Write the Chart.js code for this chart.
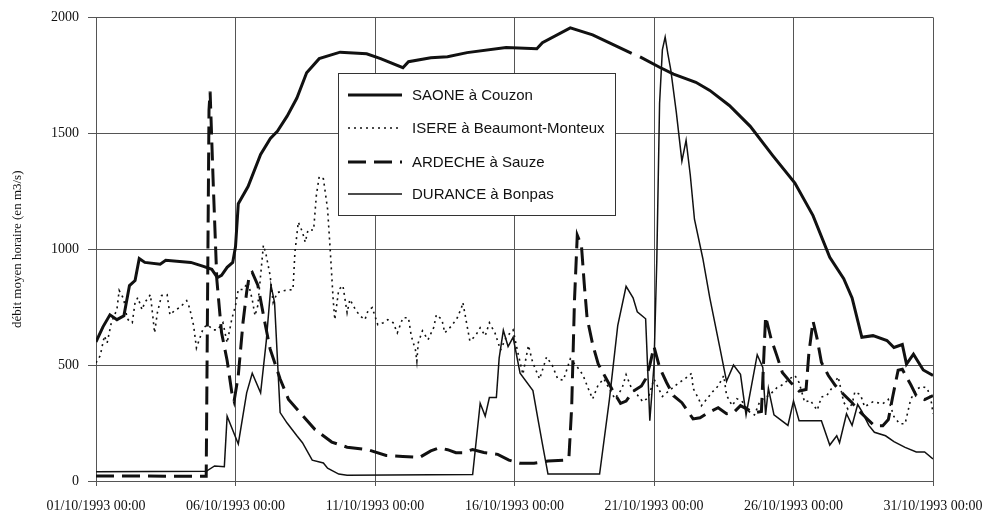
<!DOCTYPE html>
<html>
<head>
<meta charset="utf-8">
<script src="https://cdn.jsdelivr.net/npm/chart.js@4"></script>
<style>
    body { margin: 0; background: #fff; }
    #wrap { width: 988px; height: 520px; }
</style>
</head>
<body>
<div id="wrap"><canvas id="debitChart" width="988" height="520"></canvas></div>
<script>
// x = days since 01/10/1993 00:00, y = débit (m3/s)
const tickLabels = ["01/10/1993 00:00", "06/10/1993 00:00", "11/10/1993 00:00", "16/10/1993 00:00",
    "21/10/1993 00:00", "26/10/1993 00:00", "31/10/1993 00:00"];

const seriesNames = ["SAONE à Couzon", "ISERE à Beaumont-Monteux", "ARDECHE à Sauze", "DURANCE à Bonpas"];

const saone = [[0,600],[0.25,665],[0.5,717],[0.75,696],[1,713],[1.2,843],[1.4,865],[1.55,960],[1.75,943],
    [2.3,935],[2.5,952],[3.4,943],[3.85,926],[4.15,913],[4.35,878],[4.5,887],[4.7,922],[4.9,943],[5,1010],
    [5.1,1196],[5.45,1270],[5.9,1409],[6.25,1478],[6.5,1509],[6.85,1574],[7.2,1652],[7.55,1761],[8,1822],
    [8.75,1850],[9.7,1843],[10.2,1822],[11,1783],[11.2,1809],[12,1826],[12.6,1830],[13.3,1848],[14.7,1870],
    [15.8,1865],[16,1891],[17,1955],[17.8,1925],[18.5,1885],[19.2,1845],[19.35,null],[19.5,1830],[20.2,1785],
    [20.7,1755],[21.5,1720],[22,1685],[22.7,1620],[23.45,1530],[24.25,1405],[25.05,1285],[25.7,1145],
    [26.3,965],[26.8,873],[27.1,790],[27.45,620],[27.85,627],[28.35,606],[28.6,576],[28.9,589],[29.05,504],
    [29.3,547],[29.65,479],[30,455]];

const isere = [[0,510],[0.15,540],[0.3,626],[0.4,596],[0.55,683],[0.75,740],[0.83,822],[1,783],[1.05,735],
    [1.15,696],[1.3,683],[1.4,770],[1.5,791],[1.65,739],[1.75,770],[1.95,804],[2.05,696],[2.1,639],[2.2,726],
    [2.35,800],[2.55,804],[2.65,717],[2.85,739],[3,748],[3.25,778],[3.35,748],[3.5,670],[3.6,574],[3.7,609],
    [3.85,661],[4,674],[4.2,652],[4.35,652],[4.55,683],[4.7,596],[4.87,700],[5,757],[5.1,826],[5.27,826],
    [5.45,857],[5.6,783],[5.7,713],[5.8,757],[6,1017],[6.1,974],[6.24,887],[6.35,770],[6.5,813],[6.77,822],
    [7.06,826],[7.13,987],[7.25,1117],[7.4,1074],[7.5,1030],[7.6,1083],[7.8,1083],[7.9,1235],[8,1313],
    [8.15,1304],[8.3,1174],[8.4,987],[8.5,783],[8.56,696],[8.7,826],[8.85,843],[9,726],[9.1,783],[9.3,739],
    [9.46,713],[9.64,696],[9.75,735],[9.9,748],[10.1,674],[10.3,683],[10.46,696],[10.65,683],[10.8,639],
    [11,704],[11.2,704],[11.3,626],[11.45,565],[11.5,517],[11.55,596],[11.7,648],[11.9,609],[12.1,661],
    [12.2,717],[12.4,696],[12.5,639],[12.75,670],[12.95,704],[13.1,748],[13.15,770],[13.3,670],[13.4,604],
    [13.6,626],[13.77,661],[13.95,626],[14.1,683],[14.3,639],[14.5,565],[14.7,620],[14.95,652],[15.1,565],
    [15.3,460],[15.5,585],[15.65,512],[15.9,440],[16.15,535],[16.35,500],[16.55,440],[16.75,435],[17,527],
    [17.25,492],[17.45,458],[17.65,397],[17.8,354],[18,415],[18.2,441],[18.4,397],[18.6,355],[18.85,398],
    [19,459],[19.2,398],[19.4,372],[19.6,342],[19.8,360],[20,440],[20.3,365],[20.6,395],[20.85,420],
    [21.1,440],[21.35,465],[21.4,400],[21.6,355],[21.7,325],[21.9,355],[22.1,385],[22.3,410],[22.5,455],
    [22.6,370],[22.8,325],[22.97,355],[23.15,345],[23.4,300],[23.6,285],[23.8,345],[24.15,372],[24.4,402],
    [24.6,415],[24.85,440],[25.05,455],[25.2,425],[25.4,340],[25.6,348],[25.85,305],[26,362],[26.2,370],
    [26.4,405],[26.6,450],[26.8,340],[26.95,310],[27.1,332],[27.2,385],[27.4,372],[27.55,320],[27.85,342],
    [28.2,333],[28.4,352],[28.6,278],[28.8,247],[29,247],[29.2,352],[29.4,395],[29.6,408],[29.8,400],
    [29.95,335],[30,290]];

const ardeche = [[0,22],[3.95,20],[4.05,1600],[4.09,1680],[4.2,1290],[4.33,870],[4.5,640],[4.7,520],
    [4.87,380],[4.95,345],[5.1,455],[5.27,685],[5.4,815],[5.5,890],[5.6,900],[5.8,845],[6.05,685],[6.24,570],
    [6.4,512],[6.6,440],[6.9,352],[7.4,283],[7.85,222],[8.45,168],[9,146],[9.75,135],[10.4,110],[11,106],
    [11.6,102],[12,130],[12.3,143],[12.6,135],[12.9,122],[13.15,122],[13.5,136],[13.9,123],[14.4,115],
    [14.8,90],[15.2,77],[15.7,77],[16.2,86],[16.8,90],[16.95,100],[17.05,320],[17.15,780],[17.25,1060],
    [17.4,1015],[17.5,850],[17.6,705],[17.8,590],[18,505],[18.25,450],[18.5,395],[18.8,335],[19,345],
    [19.25,387],[19.55,410],[19.7,440],[19.85,500],[20,580],[20.2,490],[20.45,425],[20.7,368],[21,338],
    [21.4,268],[21.65,273],[21.95,295],[22.3,316],[22.6,290],[22.85,295],[23.1,325],[23.3,312],[23.6,295],
    [23.85,300],[24,710],[24.2,612],[24.4,542],[24.6,468],[24.9,425],[25.2,388],[25.45,395],[25.55,550],
    [25.7,690],[25.85,612],[26,512],[26.25,455],[26.5,412],[26.8,373],[27.1,338],[27.3,308],[27.6,273],
    [27.9,238],[28.2,238],[28.4,265],[28.55,360],[28.75,478],[28.9,482],[29.2,416],[29.4,368],[29.7,351],
    [30,368]];

const durance = [[0,40],[3.95,42],[4.25,65],[4.6,62],[4.7,280],[5.1,160],[5.4,380],[5.6,465],[5.9,380],
    [6.1,600],[6.27,845],[6.4,770],[6.6,295],[6.85,250],[7.2,195],[7.4,165],[7.75,90],[8.15,78],[8.3,55],
    [8.7,30],[9,25],[13.5,28],[13.77,335],[13.95,280],[14.1,360],[14.35,360],[14.45,530],[14.6,650],
    [14.77,580],[14.95,620],[15.2,465],[15.66,390],[15.85,260],[16,160],[16.2,30],[18.05,30],[18.4,350],
    [18.7,670],[19,840],[19.25,790],[19.4,730],[19.7,700],[19.85,260],[20,500],[20.1,950],[20.2,1630],
    [20.3,1860],[20.4,1915],[20.5,1840],[20.6,1775],[20.8,1590],[21,1380],[21.15,1470],[21.3,1320],
    [21.45,1130],[21.75,960],[22,790],[22.36,575],[22.6,430],[22.85,500],[23.1,460],[23.3,285],[23.7,545],
    [23.9,490],[24,285],[24.1,400],[24.3,285],[24.8,240],[25,345],[25.2,260],[25.7,260],[26,260],[26.3,155],
    [26.55,195],[26.65,165],[26.9,290],[27.1,240],[27.3,330],[27.45,300],[27.7,240],[27.9,210],[28.3,195],
    [28.6,170],[29,145],[29.4,125],[29.7,125],[30,95]];

const toPoints = arr => arr.map(p => ({ x: p[0], y: p[1] }));

const ink = "#111";
const gridColor = "#555";
const serif = "'Liberation Serif', 'Times New Roman', serif";

// legend box drawn inside the plot, like the original
const boxLegend = {
    id: "boxLegend",
    afterDatasetsDraw(chart) {
        const ctx = chart.ctx;
        const x0 = 338, y0 = 73, w = 277, h = 142;
        ctx.save();
        ctx.fillStyle = "#fff";
        ctx.fillRect(x0, y0, w, h);
        ctx.strokeStyle = "#333";
        ctx.lineWidth = 1;
        ctx.strokeRect(x0 + 0.5, y0 + 0.5, w, h);
        const rows = [95, 128, 162, 194];
        chart.data.datasets.forEach((ds, i) => {
            ctx.beginPath();
            ctx.strokeStyle = ds.borderColor;
            ctx.lineWidth = ds.borderWidth;
            ctx.setLineDash(ds.borderDash || []);
            ctx.moveTo(348, rows[i]);
            ctx.lineTo(402, rows[i]);
            ctx.stroke();
            ctx.setLineDash([]);
            ctx.fillStyle = ink;
            ctx.font = "15px 'Liberation Sans', Arial, sans-serif";
            ctx.textBaseline = "middle";
            ctx.fillText(ds.label, 412, rows[i] + 1);
        });
        ctx.restore();
    }
};

new Chart(document.getElementById("debitChart"), {
    type: "line",
    data: {
        datasets: [
            { label: seriesNames[0], data: toPoints(saone), borderColor: ink, borderWidth: 3, spanGaps: false },
            { label: seriesNames[1], data: toPoints(isere), borderColor: ink, borderWidth: 1.6, borderDash: [2, 4] },
            { label: seriesNames[2], data: toPoints(ardeche), borderColor: ink, borderWidth: 3, borderDash: [18, 8] },
            { label: seriesNames[3], data: toPoints(durance), borderColor: ink, borderWidth: 1.5 }
        ]
    },
    options: {
        responsive: false,
        animation: false,
        devicePixelRatio: 1,
        layout: { padding: { left: 10, right: 55, top: 14, bottom: 0 } },
        elements: { point: { radius: 0 }, line: { tension: 0, fill: false } },
        plugins: { legend: { display: false }, tooltip: { enabled: false } },
        scales: {
            x: {
                type: "linear",
                min: 0,
                max: 30,
                afterFit: scale => {
                    scale.height = 39;
                    scale.paddingLeft = 0;
                    scale.paddingRight = 0;
                },
                ticks: {
                    stepSize: 5,
                    autoSkip: false,
                    maxRotation: 0,
                    padding: 12,
                    color: ink,
                    font: { family: serif, size: 14 },
                    callback: value => tickLabels[value / 5]
                },
                grid: { color: gridColor, lineWidth: 1, tickLength: 5 },
                border: { color: gridColor }
            },
            y: {
                min: 0,
                max: 2000,
                afterFit: scale => { scale.width = 86; },
                ticks: {
                    stepSize: 500,
                    padding: 9,
                    color: ink,
                    font: { family: serif, size: 14 },
                    callback: value => String(value)
                },
                grid: { color: gridColor, lineWidth: 1, tickLength: 8 },
                border: { color: gridColor },
                title: {
                    display: true,
                    text: "débit moyen horaire (en m3/s)",
                    color: ink,
                    padding: 0,
                    font: { family: serif, size: 13 }
                }
            }
        }
    },
    plugins: [boxLegend]
});
</script>
</body>
</html>
